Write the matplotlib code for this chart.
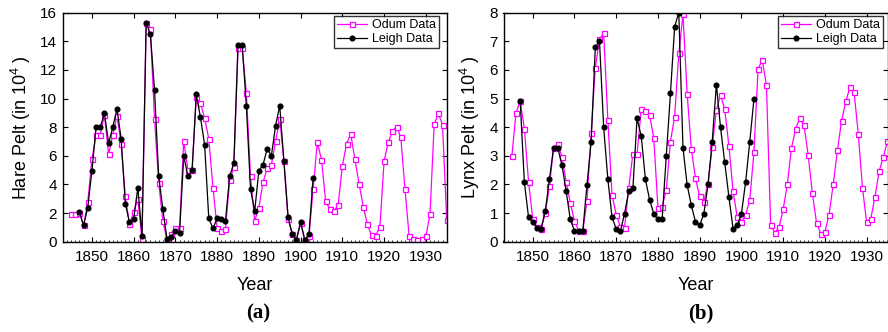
import matplotlib
matplotlib.use("Agg")
import matplotlib.pyplot as plt
import numpy as np

plt.rcParams['font.family'] = ['Liberation Sans', 'DejaVu Sans']

# ---------------- data ----------------
odum_years = list(range(1845, 1936))
leigh_years = list(range(1847, 1904))

odum_hare = [1.91, 1.91, 2.0, 1.14, 2.75, 5.76, 7.44, 7.48, 8.86, 6.1,
             7.46, 8.81, 6.83, 3.17, 1.21, 2.07, 2.98, 0.16, 15.3, 14.85,
             8.58, 4.1, 1.45, 0.1, 0.51, 0.98, 0.98, 7.04, 4.99, 4.99,
             10.09, 9.7, 8.62, 7.2, 3.78, 0.96, 0.72, 0.89, 4.29, 5.2,
             13.54, 13.54, 10.37, 4.57, 1.47, 2.38, 4.15, 5.17, 5.36, 7.02,
             8.58, 5.62, 1.58, 0.54, 0.15, 1.3, 0.12, 0.4, 3.68, 6.95,
             5.73, 2.82, 2.28, 2.12, 2.59, 5.29, 6.83, 7.53, 5.76, 4.06,
             2.45, 1.21, 0.44, 0.42, 1.05, 5.64, 6.95, 7.74, 8.04, 7.32,
             3.68, 0.4, 0.19, 0.12, 0.21, 0.37, 1.91, 8.2, 8.97, 8.16,
             1.52]

leigh_hare = [2.1, 1.14, 2.38, 4.97, 8.0, 8.0, 8.97, 6.88, 8.0, 9.28,
              7.2, 2.66, 1.35, 1.56, 3.78, 0.42, 15.3, 14.52, 10.6, 4.57,
              2.26, 0.16, 0.35, 0.77, 0.63, 5.99, 4.57, 4.99, 10.3, 8.7,
              6.78, 1.63, 0.93, 1.63, 1.56, 1.47, 4.57, 5.48, 13.75, 13.75,
              9.51, 3.66, 2.14, 4.97, 5.38, 6.48, 6.01, 8.09, 9.51, 5.62,
              1.72, 0.51, 0.12, 1.4, 0.12, 0.51, 4.48]

odum_lynx = [2.99, 4.5, 4.91, 3.95, 2.1, 0.81, 0.51, 0.45, 0.99, 1.93,
             3.28, 3.42, 2.96, 2.1, 1.35, 0.73, 0.38, 0.38, 1.41, 3.81,
             6.08, 7.08, 7.28, 4.26, 1.63, 0.95, 0.52, 0.49, 1.87, 3.07,
             3.07, 4.62, 4.56, 4.41, 3.63, 1.18, 1.22, 1.8, 3.5, 4.37,
             6.58, 7.94, 5.16, 3.24, 2.21, 1.58, 1.39, 2.03, 3.32, 4.6,
             5.13, 4.63, 3.35, 1.77, 0.86, 0.69, 0.93, 1.46, 3.13, 6.05,
             6.34, 5.46, 0.59, 0.31, 0.5, 1.13, 2.01, 3.28, 3.95, 4.32,
             4.06, 3.02, 1.69, 0.66, 0.28, 0.33, 0.95, 2.01, 3.19, 4.23,
             4.9, 5.39, 5.22, 3.76, 1.89, 0.68, 0.8, 1.57, 2.46, 2.96,
             3.52]

leigh_lynx = [4.91, 2.07, 0.86, 0.68, 0.49, 0.45, 1.06, 2.18, 3.28, 3.28,
              2.68, 1.78, 0.78, 0.38, 0.38, 0.38, 1.98, 3.49, 6.8, 7.0,
              3.99, 2.18, 0.86, 0.45, 0.36, 0.98, 1.77, 1.87, 4.31, 3.69,
              2.18, 1.47, 0.98, 0.78, 0.78, 2.99, 5.18, 7.51, 8.0, 3.28,
              1.98, 1.27, 0.69, 0.57, 0.98, 2.0, 3.49, 5.49, 3.99, 2.77,
              1.57, 0.45, 0.57, 0.98, 2.07, 3.49, 4.99]

xticks = [1850, 1860, 1870, 1880, 1890, 1900, 1910, 1920, 1930]
hare_yticks = [0, 2, 4, 6, 8, 10, 12, 14, 16]
lynx_yticks = [0, 1, 2, 3, 4, 5, 6, 7, 8]

# ---------------- figure ----------------
W, H = 888, 332
fig = plt.figure(figsize=(W / 100, H / 100), dpi=100)

def px_axes(x0, x1, ytop, ybot):
    return fig.add_axes([x0 / W, (H - ybot) / H, (x1 - x0) / W, (ybot - ytop) / H])

axa = px_axes(62.7, 446.7, 12.7, 241.7)
axb = px_axes(503.5, 887.5, 12.7, 241.7)

MAG = '#FF00FF'

def draw(ax, odum, leigh, ylim, yticks, ylabel, bbox):
    ax.plot(odum_years, odum, color=MAG, lw=0.9, marker='s', ms=3.6,
            mfc='white', mec=MAG, mew=0.9, label='Odum Data', zorder=2)
    ax.plot(leigh_years, leigh, color='black', lw=0.9, marker='o', ms=3.4,
            mfc='black', mec='black', label='Leigh Data', zorder=3)
    ax.set_xlim(1843, 1935)
    ax.set_ylim(*ylim)
    ax.set_xticks(xticks)
    ax.set_xticks(np.arange(1843, 1936, 1), minor=True)
    ax.set_yticks(yticks)
    ax.tick_params(axis='both', which='major', direction='in', length=3.5,
                   width=0.8, top=True, right=True, labelsize=11, pad=4)
    ax.tick_params(axis='x', which='major', pad=6)
    ax.tick_params(axis='x', which='minor', direction='in', length=1.8,
                   width=0.6, top=False, bottom=True)
    for s in ax.spines.values():
        s.set_linewidth(1.0)
    ax.set_xlabel('Year', fontsize=13, labelpad=9)
    ax.set_ylabel(ylabel, fontsize=13, labelpad=5)
    leg = ax.legend(loc='upper right', bbox_to_anchor=bbox, fontsize=9,
                    frameon=True, fancybox=False, edgecolor='black',
                    handlelength=2.4, handletextpad=0.4, borderpad=0.25,
                    labelspacing=0.15, borderaxespad=0.0)
    leg.get_frame().set_linewidth(1.0)

draw(axa, odum_hare, leigh_hare, (0, 16), hare_yticks,
     'Hare Pelt (in 10$\\mathregular{^{4}}$ )', ((439 - 62.7) / 384, (241.7 - 16) / 229))
draw(axb, odum_lynx, leigh_lynx, (0, 8), lynx_yticks,
     'Lynx Pelt (in 10$\\mathregular{^{4}}$ )', ((883 - 503.5) / 384, (241.7 - 16) / 229))

fig.text(258 / W, 1 - 313 / H, '(a)', ha='center', va='center',
         fontsize=15, fontweight='bold', family='Liberation Serif')
fig.text(701 / W, 1 - 313 / H, '(b)', ha='center', va='center',
         fontsize=15, fontweight='bold', family='Liberation Serif')

fig.savefig('out.png', dpi=100)
